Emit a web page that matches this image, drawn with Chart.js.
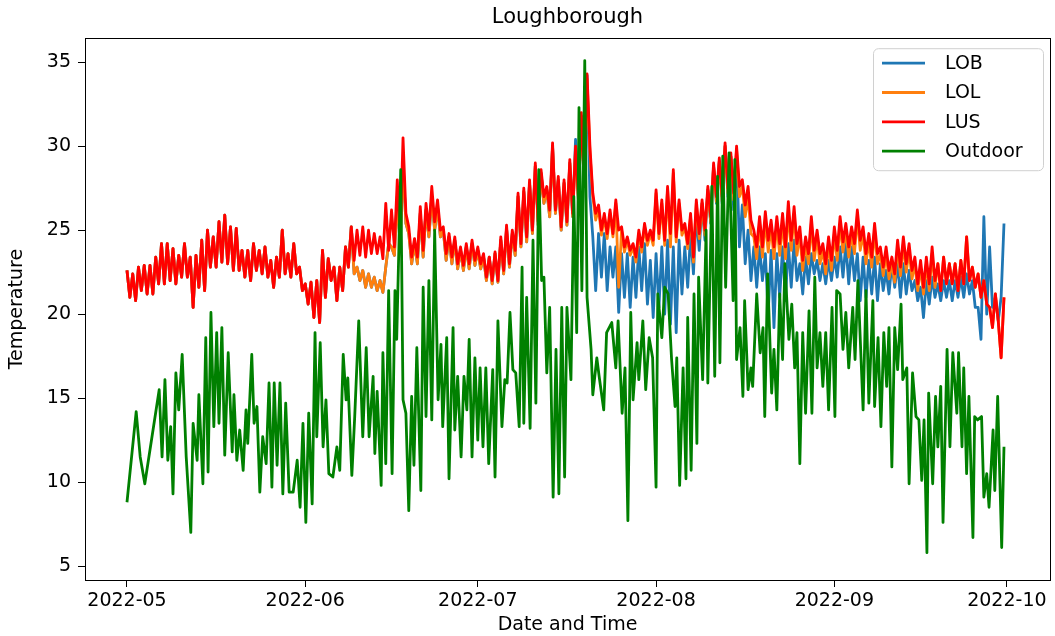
<!DOCTYPE html>
<html><head><meta charset="utf-8">
<script src="https://cdn.jsdelivr.net/npm/chart.js@4.4.0/dist/chart.umd.min.js"></script>
<style>html,body{margin:0;padding:0;background:#fff}#wrap{width:1055px;height:636px}</style>
</head><body><div id="wrap"><canvas id="c" width="1055" height="636"></canvas></div>
<script>
// ---- data ----
const monthTickDays = [0, 31, 61, 92, 123, 153];
const monthTickLabels = ['2022-05', '2022-06', '2022-07', '2022-08', '2022-09', '2022-10'];
const yTickValues = [5, 10, 15, 20, 25, 30, 35];
const seriesNames = ['LOB', 'LOL', 'LUS', 'Outdoor'];
const indoorStepDays = 0.5; // indoor readings every 12 h from 2022-05-01

const lusTemps = [22.6,21.0,22.4,20.8,22.8,21.4,22.9,21.2,22.9,21.2,
23.4,21.8,24.2,21.8,24.2,22.0,23.9,21.8,23.5,22.2,
24.2,22.2,23.4,20.4,23.5,21.6,24.4,21.4,25.0,22.8,
24.6,22.8,25.5,23.1,25.9,23.0,25.2,22.6,25.1,22.6,
23.8,22.2,23.8,22.0,24.2,22.6,23.8,22.4,24.0,22.2,
23.2,21.6,23.4,22.2,25.0,22.4,23.6,22.2,24.2,22.4,
22.8,21.4,21.8,20.6,21.9,19.8,22.0,19.5,23.8,21.0,
23.3,22.0,22.8,20.8,22.8,21.4,24.0,22.8,25.2,23.2,
25.0,23.5,25.2,23.4,25.0,23.6,24.8,23.6,24.6,23.3,
26.6,23.8,26.2,24.0,28.0,24.5,30.5,26.0,25.2,23.4,
24.5,23.4,26.4,23.8,26.6,25.0,27.6,25.5,26.8,25.0,
25.2,23.6,24.8,23.4,24.6,23.0,24.0,22.9,24.2,23.0,
24.4,23.2,24.0,23.0,23.6,22.2,23.4,22.0,23.7,22.0,
24.6,22.6,25.3,23.0,25.0,23.8,27.2,24.2,27.5,24.6,
28.0,25.0,29.0,25.5,28.6,27.0,27.6,26.2,30.2,26.2,
28.2,25.2,28.0,25.5,29.2,26.0,30.0,27.0,32.0,28.0,
34.3,30.0,27.2,26.0,26.5,25.0,26.0,24.8,26.2,24.8,
26.8,25.0,25.2,24.0,24.6,23.8,24.2,23.4,25.0,24.0,
25.4,24.4,25.0,24.4,27.4,24.8,26.8,24.4,27.6,24.8,
28.6,24.6,26.8,25.0,25.4,24.2,26.0,23.4,26.8,24.8,
26.8,25.0,27.6,25.8,29.0,27.0,29.3,27.0,30.2,27.5,
29.6,27.2,30.0,27.6,28.0,26.5,27.6,25.6,25.0,24.0,
25.8,24.0,26.1,24.4,25.6,24.0,25.8,24.2,26.0,24.0,
26.7,24.4,26.4,24.2,25.2,23.2,24.6,23.6,25.8,23.8,
25.0,23.6,24.2,23.0,24.6,23.2,25.2,23.8,25.8,24.3,
25.4,24.0,25.2,24.2,26.2,24.4,25.2,23.6,24.8,23.4,
25.4,23.6,24.0,22.8,24.0,22.6,23.4,22.4,24.4,22.8,
24.6,23.0,24.2,22.6,23.4,21.8,23.2,21.6,23.4,21.8,
24.0,22.0,23.0,21.4,23.4,21.8,23.0,21.8,23.0,21.4,
23.2,21.8,24.6,22.0,22.8,21.6,22.4,21.0,22.0,20.6,
20.4,19.2,21.2,19.6,17.4,21.0];

const lolTemps = [22.6,21.0,22.4,20.8,22.8,21.4,22.9,21.2,22.9,21.2,
23.4,21.8,24.2,21.8,24.2,22.0,23.9,21.8,23.5,22.2,
24.2,22.2,23.4,20.4,23.5,21.6,24.4,21.4,25.0,22.8,
24.6,22.8,25.5,23.1,25.9,23.0,25.2,22.6,25.1,22.6,
23.8,22.2,23.8,22.0,24.2,22.6,23.8,22.4,24.0,22.2,
23.2,21.6,23.4,22.2,25.0,22.4,23.6,22.2,24.2,22.4,
22.8,21.4,21.8,20.6,21.9,19.8,22.0,19.5,23.8,21.0,
23.3,22.0,22.8,20.8,22.8,21.4,24.0,22.8,25.2,22.4,
22.8,22.0,22.6,21.6,22.4,21.6,22.2,21.4,22.0,21.3,
22.8,24.2,24.0,23.5,27.0,24.0,29.0,25.4,24.8,23.0,
24.2,23.0,26.0,23.4,26.2,24.6,27.0,25.0,26.4,24.6,
25.0,23.2,24.6,23.0,24.4,22.7,23.8,22.6,24.0,22.7,
24.2,22.9,23.8,22.7,23.4,22.0,23.4,21.8,23.6,21.9,
24.4,22.4,25.1,22.8,24.8,23.5,27.0,24.0,27.3,24.3,
27.8,24.8,28.8,25.3,28.4,26.6,27.4,25.8,30.0,26.0,
28.0,25.0,27.8,25.3,29.0,25.8,29.8,26.8,31.8,27.8,
34.0,29.6,27.0,25.6,26.3,24.7,25.8,24.5,26.0,24.6,
26.6,21.6,25.0,23.7,24.4,23.5,24.0,23.1,24.8,23.7,
25.2,24.1,24.8,24.1,27.2,24.5,26.6,24.1,27.4,24.0,
28.4,24.3,26.6,24.7,25.2,23.9,25.8,23.1,26.6,24.5,
26.6,24.7,27.4,25.5,28.8,26.7,29.1,26.7,30.0,27.2,
29.4,26.8,29.8,27.0,27.6,25.8,27.0,24.8,24.6,23.3,
25.4,23.4,25.6,23.7,25.2,23.3,25.4,23.5,25.6,23.3,
26.2,23.8,26.0,23.5,24.8,22.6,24.2,23.0,25.4,23.2,
24.6,23.0,23.8,22.4,24.2,22.6,24.8,23.2,25.4,23.7,
25.0,23.4,24.8,23.6,25.8,23.8,24.8,23.0,24.4,22.8,
25.0,23.0,23.6,22.3,23.6,22.1,23.0,21.9,24.0,22.3,
24.2,22.5,23.8,22.1,23.0,21.4,22.8,21.2,23.0,21.4,
23.6,21.6,23.0,21.4,23.4,21.8,23.0,21.8,23.0,21.4,
23.2,21.8,24.6,22.0,22.8,21.6,22.4,21.0,22.0,20.6,
20.4,19.2,21.2,19.6,17.4,21.0];

const lobTemps = [22.6,21.0,22.4,20.8,22.8,21.4,22.9,21.2,22.9,21.2,
23.4,21.8,24.2,21.8,24.2,22.0,23.9,21.8,23.5,22.2,
24.2,22.2,23.4,20.4,23.5,21.6,24.4,21.4,25.0,22.8,
24.6,22.8,25.5,23.1,25.9,23.0,25.2,22.6,25.1,22.6,
23.8,22.2,23.8,22.0,24.2,22.6,23.8,22.4,24.0,22.2,
23.2,21.6,23.4,22.2,25.0,22.4,23.6,22.2,24.2,22.4,
22.8,21.4,21.8,20.6,21.9,19.8,22.0,19.5,23.8,21.0,
23.3,22.0,22.8,20.8,22.8,21.4,24.0,22.8,25.2,22.4,
22.8,22.0,22.6,21.6,22.4,21.6,22.2,21.4,22.0,21.3,
22.8,24.2,24.0,23.5,27.0,24.0,29.0,25.4,24.8,23.0,
24.2,23.0,26.0,23.4,26.2,24.6,27.0,25.0,26.4,24.6,
25.0,23.2,24.6,23.0,24.4,22.7,23.8,22.6,24.0,22.7,
24.2,22.9,23.8,22.7,23.4,22.0,23.4,21.8,23.6,21.9,
24.4,22.4,25.1,22.8,24.8,23.5,27.0,24.0,27.3,24.3,
27.8,24.8,28.8,25.3,28.4,26.6,27.4,25.8,30.0,26.0,
28.0,25.0,27.8,25.3,29.0,25.8,30.4,26.8,31.8,27.8,
34.2,27.0,24.6,21.4,24.8,22.2,24.8,21.4,24.0,22.2,
24.0,20.1,23.6,21.0,23.6,20.4,23.4,21.0,24.0,21.4,
24.2,20.6,23.2,19.8,23.6,20.4,24.0,20.0,24.4,19.4,
24.0,18.9,24.4,21.2,24.0,21.6,24.8,22.4,26.0,23.8,
26.6,24.4,27.4,25.4,28.8,26.6,29.1,26.6,30.0,27.0,
29.4,26.2,29.6,24.0,26.5,23.0,25.0,22.0,24.0,21.6,
24.0,22.0,23.6,20.0,23.8,19.2,23.6,21.0,24.0,20.8,
24.2,21.6,24.4,22.0,23.0,21.2,23.4,21.8,23.6,22.4,
23.2,22.0,23.0,21.8,23.2,22.0,23.4,22.2,24.0,22.2,
24.2,21.8,24.0,22.0,23.6,20.8,23.4,21.0,23.2,21.2,
23.4,20.8,23.0,21.4,22.6,21.2,23.0,21.6,23.0,21.0,
23.0,21.2,22.6,21.4,22.0,20.8,21.6,19.8,22.0,20.6,
22.2,21.0,21.8,20.8,22.0,21.0,22.0,20.8,22.0,21.0,
22.2,21.0,22.4,21.2,22.0,20.4,20.4,18.5,25.8,20.0,
24.0,20.4,21.0,19.6,21.0,25.4];

// outdoor readings: days since 2022-05-01 00:00
const outdoorDays = [0,1.6,2.3,3.1,5.6,6.1,6.6,7.1,7.6,8.0,
8.5,9.0,9.6,10.3,11.1,11.5,12.2,12.5,13.2,13.7,
14.1,14.6,15.1,15.6,16.0,16.5,17.0,17.6,18.3,18.6,
19.1,19.6,20.2,20.7,21.0,21.7,22.1,22.6,23.1,23.6,
24.2,24.7,25.2,25.6,26.1,26.6,27.1,27.6,28.2,28.9,
29.6,30.1,30.6,31.1,31.6,32.2,32.7,33.0,33.6,34.1,
34.6,35.1,35.8,36.5,37.0,37.6,38.1,38.4,39.1,39.6,
40.3,41.0,41.6,42.1,42.8,43.1,43.5,44.2,44.5,45.0,
45.5,46.1,46.6,46.9,47.6,48.0,48.5,49.0,49.5,49.9,
50.4,51.1,51.5,52.0,52.5,53.0,53.5,54.1,54.6,54.9,
55.6,56.0,56.7,57.0,57.5,58.1,58.6,59.1,59.5,60.0,
60.5,61.0,61.4,61.9,62.4,62.9,63.6,64.0,64.5,65.2,
65.7,66.1,66.6,67.1,67.6,68.2,68.7,69.0,69.5,70.1,
70.6,71.1,71.6,72.1,72.5,73.0,73.5,74.1,74.6,75.1,
75.6,76.1,76.5,77.2,77.7,78.2,78.6,79.1,79.6,80.0,
80.7,81.0,81.7,82.1,82.9,83.4,84.3,85.0,85.4,86.1,
86.6,87.1,87.6,88.0,88.7,89.0,89.7,90.2,90.8,91.4,
92.0,92.3,93.0,93.5,94.1,94.7,95.3,95.6,96.1,96.7,
97.2,97.5,98.1,98.6,99.1,99.4,100.1,100.7,101.0,101.7,
102.2,102.7,103.1,103.6,104.1,104.7,105.4,105.7,106.0,106.6,
107.1,107.4,108.0,108.5,108.8,109.5,110.1,110.6,110.9,111.4,
112.1,112.5,113.0,113.5,114.0,114.4,115.1,115.6,116.1,116.5,
117.0,117.5,118.0,118.6,119.1,119.6,120.0,120.5,121.0,121.5,
122.0,122.6,123.1,123.4,124.0,124.5,125.0,125.5,126.2,126.6,
127.1,128.0,128.5,129.0,129.7,130.0,130.6,131.1,131.6,132.1,
132.5,133.0,133.5,134.0,134.6,134.9,135.6,136.0,136.6,137.2,
137.7,138.2,138.6,139.1,139.4,140.1,140.6,141.0,141.5,141.9,
142.6,143.1,143.6,144.3,144.6,145.2,145.5,146.0,146.4,147.1,
147.4,147.9,148.6,149.0,149.5,149.9,150.6,150.9,151.4,152.1,
152.5];

const outdoorTemps = [8.8,14.2,11.5,9.9,15.5,11.5,16.1,11.3,13.3,9.3,
16.5,14.3,17.6,11.5,7.0,13.5,11.3,15.2,9.9,18.6,
10.6,20.1,13.3,18.9,13.5,19.2,11.6,17.7,11.8,15.2,
11.3,13.1,10.7,14.3,12.3,17.6,13.5,14.5,9.4,12.7,
11.1,15.9,9.7,15.9,11.0,15.9,9.3,14.7,9.4,9.4,
11.3,8.5,13.5,7.6,14.1,8.7,18.9,12.7,18.3,12.1,
14.9,10.5,10.3,12.1,10.7,17.6,14.9,16.2,10.4,13.9,
19.6,12.7,18.0,12.7,16.3,11.7,15.4,9.8,17.7,11.1,
21.4,10.5,21.4,18.5,28.6,14.9,14.1,8.3,15.1,11.0,
18.0,9.5,21.6,13.9,22.0,13.7,25.0,14.9,18.2,13.3,
18.6,10.2,19.2,13.1,16.3,11.5,16.3,14.3,18.5,11.5,
17.4,12.5,16.8,12.1,16.8,11.1,16.7,10.3,19.6,13.3,
16.1,15.9,20.1,16.7,16.5,13.3,22.8,13.5,21.0,13.2,
24.4,14.7,28.6,22.0,22.2,16.5,20.4,9.1,17.9,9.3,
20.4,10.3,20.4,16.1,27.0,18.9,32.3,21.4,35.1,21.0,
17.9,15.2,17.4,16.3,14.3,18.9,19.5,16.8,19.6,14.1,
16.8,7.7,20.1,14.9,18.3,16.1,19.6,15.5,18.6,17.4,
9.7,21.2,18.6,21.6,21.2,17.3,14.5,17.4,9.8,16.8,
10.2,19.8,10.7,21.2,12.3,22.2,16.1,25.0,15.9,27.6,
16.3,28.2,17.1,29.4,21.6,29.6,20.8,29.2,17.3,19.2,
15.1,20.8,15.5,16.8,15.7,21.2,17.7,19.2,13.9,22.4,
15.3,17.9,14.3,21.2,17.3,23.0,18.5,20.6,16.8,18.9,
11.1,18.9,14.1,20.2,14.1,22.2,16.8,18.9,15.7,18.9,
14.3,20.4,13.9,21.4,21.2,17.9,20.1,16.8,20.4,17.3,
22.0,14.3,21.4,14.7,20.8,14.5,18.6,13.3,18.9,15.7,
19.2,10.9,19.2,16.7,20.6,16.1,16.8,9.9,16.5,13.9,
13.7,10.1,13.7,5.8,15.3,9.9,15.1,12.1,15.7,7.6,
17.9,12.1,17.7,14.1,17.7,12.1,16.8,10.5,15.1,6.7,
13.9,13.7,13.9,9.1,10.5,8.5,13.1,9.5,15.1,6.1,
12.1];

// ---- build ----
const indoorDays = lusTemps.map((_, i) => i * indoorStepDays);
const toXY = (xs, ys) => ys.map((y, i) => ({ x: xs[i], y }));
const FONT = "'DejaVu Sans', sans-serif";
const colors = ['#1f77b4', '#ff7f0e', '#ff0000', '#008000'];

const framePlugin = {
  id: 'frame',
  afterDatasetsDraw(chart) {
    const { ctx, chartArea: a } = chart;
    ctx.save();
    ctx.strokeStyle = '#000';
    ctx.lineWidth = 1;
    ctx.strokeRect(Math.round(a.left) + 0.5, Math.round(a.top) + 0.5,
      Math.round(a.right - a.left), Math.round(a.bottom - a.top));
    ctx.restore();
  }
};

const legendBoxPlugin = {
  id: 'legendBox',
  afterDraw(chart) {
    const { ctx, chartArea: a } = chart;
    const w = 170, h = 122;
    const x0 = a.right - 7 - w, y0 = a.top + 10;
    ctx.save();
    ctx.beginPath();
    if (ctx.roundRect) ctx.roundRect(x0 + 0.5, y0 + 0.5, w, h, 5); else ctx.rect(x0 + 0.5, y0 + 0.5, w, h);
    ctx.fillStyle = 'rgba(255,255,255,0.8)';
    ctx.fill();
    ctx.strokeStyle = '#d0d0d0';
    ctx.lineWidth = 1;
    ctx.stroke();
    ctx.font = '19px ' + FONT;
    ctx.textBaseline = 'middle';
    ctx.textAlign = 'left';
    chart.data.datasets.forEach((ds, i) => {
      const cy = y0 + 15 + i * 29.3;
      ctx.beginPath();
      ctx.moveTo(x0 + 9, cy);
      ctx.lineTo(x0 + 52, cy);
      ctx.strokeStyle = ds.borderColor;
      ctx.lineWidth = 2.8;
      ctx.stroke();
      ctx.fillStyle = '#000';
      ctx.fillText(ds.label, x0 + 72, cy + 1);
    });
    ctx.restore();
  }
};

const datasets = [
  { label: seriesNames[0], data: toXY(indoorDays, lobTemps), borderColor: colors[0], order: 3 },
  { label: seriesNames[1], data: toXY(indoorDays, lolTemps), borderColor: colors[1], order: 2 },
  { label: seriesNames[2], data: toXY(indoorDays, lusTemps), borderColor: colors[2], order: 1 },
  { label: seriesNames[3], data: toXY(outdoorDays, outdoorTemps), borderColor: colors[3], order: 0 }
];

new Chart(document.getElementById('c'), {
  type: 'line',
  data: { datasets },
  options: {
    responsive: false,
    animation: false,
    devicePixelRatio: 1,
    elements: {
      point: { radius: 0, hoverRadius: 0 },
      line: { borderWidth: 2.8, tension: 0, fill: false, borderJoinStyle: 'round', borderCapStyle: 'butt' }
    },
    layout: { padding: { left: 0, right: 5, top: 0, bottom: 0 } },
    plugins: {
      legend: { display: false },
      tooltip: { enabled: false },
      title: {
        display: true, text: 'Loughborough', color: '#000', fullSize: false,
        font: { family: FONT, size: 21, weight: 'normal' },
        padding: { top: 5, bottom: 8 }
      }
    },
    scales: {
      x: {
        type: 'linear', min: -7.3, max: 160.5,
        afterBuildTicks: s => { s.ticks = monthTickDays.map(v => ({ value: v })); },
        afterFit: s => { s.height = 56; },
        ticks: {
          callback: (v, i) => monthTickLabels[i],
          color: '#000', font: { family: FONT, size: 19 },
          maxRotation: 0, autoSkip: false, padding: 3
        },
        grid: { drawOnChartArea: false, drawTicks: true, tickLength: 7, color: '#000', tickWidth: 1 },
        border: { display: true, color: '#000', width: 1 },
        title: { display: true, text: 'Date and Time', color: '#000', font: { family: FONT, size: 19 }, padding: { top: 0, bottom: 0 } }
      },
      y: {
        type: 'linear', min: 4.17, max: 36.43,
        afterBuildTicks: s => { s.ticks = yTickValues.map(v => ({ value: v })); },
        afterFit: s => { s.width = 85; },
        ticks: { color: '#000', font: { family: FONT, size: 19 }, padding: 7 },
        grid: { drawOnChartArea: false, drawTicks: true, tickLength: 7, color: '#000', tickWidth: 1 },
        border: { display: true, color: '#000', width: 1 },
        title: { display: true, text: 'Temperature', color: '#000', font: { family: FONT, size: 19 }, padding: { top: 6, bottom: 0 } }
      }
    }
  },
  plugins: [framePlugin, legendBoxPlugin]
});
</script>
</body></html>
